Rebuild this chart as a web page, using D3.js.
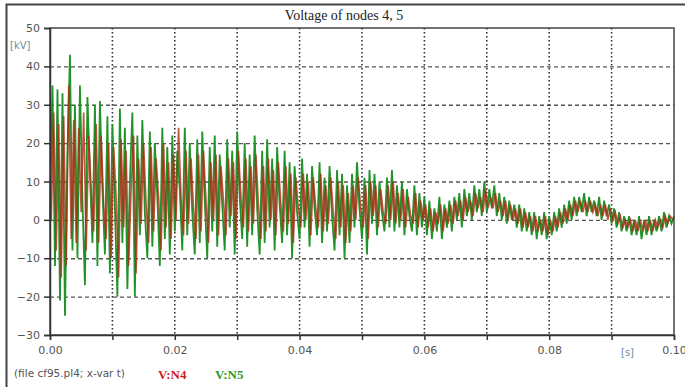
<!DOCTYPE html>
<html>
<head>
<meta charset="utf-8">
<script src="https://cdn.jsdelivr.net/npm/d3@7"></script>
<style>
  body { margin: 0; background: #fff; }
  svg { display: block; }
</style>
</head>
<body>
<svg id="chart" width="685" height="387"></svg>
<script>
// sample step of both traces [s]; the N4 trace is read half a step later
const tStep = 0.0004;
const n4Shift = 0.0002;

// V:N5 (green), kV, one row = 0.004 s
const n5 = [
  0, 35, -12, 34, -21, 33, -25, 18, 43, -8,
  30, -10, 35, 5, -17, 32, 12, -6, 30, -12,
  31, 8, -9, 27, -14, 25, 3, -20, 29, -6,
  24, -18, 10, 28, -20, 22, -4, 26, 2, -10,
  23, -7, 20, 6, -12, 24, -5, 19, -9, 22,
  -3, 18, 8, -8, 24, -4, 20, 2, -9, 21,
  -6, 23, 5, -10, 19, -3, 22, -7, 17, 4,
  -8, 21, -2, 18, -9, 23, 6, -5, 20, -7,
  17, -4, 22, 3, -9, 18, -6, 21, -2, 16,
  -8, 19, 4, -6, 18, -4, 15, -10, 14, 2,
  -5, 16, -2, 12, -7, 14, 3, -4, 15, -6,
  11, -3, 14, 1, -8, 13, -4, 12, -10, 9,
  -6, 12, -2, 15, 3, -5, 11, -9, 13, -1,
  12, -4, 10, 2, -3, 11, -2, 13, -3, 9,
  -2, 10, -4, 8, 1, -3, 9, -4, 7, -2,
  6, -4, 5, -5, 3, -3, 6, -5, 4, -2,
  5, -3, 6, 0, 7, -2, 8, 1, 7, 0,
  9, 2, 8, 1, 10, 2, 8, 3, 9, 1,
  7, 0, 6, -1, 5, 0, 4, -2, 4, -3,
  3, -3, 2, -4, 2, -5, 1, -4, 2, -5,
  1, -4, 2, -3, 3, -2, 4, -1, 5, 0,
  6, 1, 6, 2, 7, 1, 6, 2, 5, 1,
  6, 0, 5, 1, 4, -1, 3, -2, 2, -3,
  1, -3, 1, -4, 0, -4, 1, -5, 0, -4,
  1, -4, 0, -3, 1, -3, 2, -2, 1, -1,
  1
];

// V:N4 (red), kV
const n4 = [
  0, 28, -8, 25, -15, 27, -12, 35, -5, 26,
  -6, 24, 2, 28, -8, 22, 8, -3, 25, -6,
  22, 4, -5, 20, -10, 19, 6, -15, 21, -2,
  18, -12, 8, 22, -14, 16, -1, 20, 4, -6,
  19, -3, 16, 6, -8, 20, -2, 15, -5, 17,
  0, 24, 6, -4, 18, -1, 16, 3, -5, 17,
  -3, 18, 5, -6, 15, 0, 17, -4, 14, 5,
  -4, 16, 1, 15, -5, 18, 6, -2, 16, -3,
  14, -1, 17, 4, -5, 14, -3, 16, 0, 13,
  -4, 15, 4, -3, 14, -1, 12, -6, 11, 3,
  -2, 12, 0, 10, -4, 11, 3, -2, 12, -3,
  9, -1, 11, 2, -5, 10, -2, 9, -6, 7,
  -3, 9, 0, 11, 3, -2, 9, -5, 10, 1,
  9, -2, 8, 2, -1, 9, 0, 10, -1, 7,
  0, 8, -2, 6, 1, -1, 7, -2, 5, 0,
  4, -2, 3, -3, 2, -1, 4, -3, 3, -1,
  4, -1, 5, 1, 5, 0, 6, 2, 5, 1,
  7, 3, 6, 2, 8, 3, 6, 3, 7, 2,
  5, 1, 5, 0, 4, 0, 3, -1, 3, -2,
  2, -2, 1, -3, 1, -3, 0, -3, 1, -4,
  0, -3, 1, -2, 2, -1, 3, 0, 4, 1,
  5, 2, 5, 2, 5, 2, 5, 2, 4, 1,
  4, 1, 4, 0, 3, 0, 2, -1, 1, -2,
  0, -2, 0, -3, 0, -3, 0, -3, 0, -3,
  0, -3, 0, -2, 0, -2, 1, -1, 1, 0
];

const yTicks = [-30, -20, -10, 0, 10, 20, 30, 40, 50];
const xTicks = [0, 0.01, 0.02, 0.03, 0.04, 0.05, 0.06, 0.07, 0.08, 0.09, 0.1];
const xLabels = [0, 0.02, 0.04, 0.06, 0.08, 0.1];

const margin = { left: 50, right: 11, top: 28, bottom: 52 };
const width = 685, height = 387;

const svg = d3.select("#chart");

const x = d3.scaleLinear().domain([0, 0.1]).range([margin.left, width - margin.right]);
const y = d3.scaleLinear().domain([-30, 50]).range([height - margin.bottom, margin.top]);

// outer frame (left + top)
svg.append("path")
  .attr("d", "M6.5,390V4.5H690")
  .attr("fill", "none")
  .attr("stroke", "#444")
  .attr("stroke-width", 2);

// title
svg.append("text")
  .attr("x", 344).attr("y", 20)
  .attr("text-anchor", "middle")
  .style("font-family", "Liberation Serif, serif")
  .style("font-size", "14px")
  .attr("fill", "#222")
  .text("Voltage of nodes 4, 5");

/* ========== GRID ========== */
svg.append("g")
  .selectAll("line")
  .data(yTicks.filter(d => d > -30 && d < 50))
  .join("line")
  .attr("x1", margin.left).attr("x2", width - margin.right)
  .attr("y1", d => y(d) + 0.5).attr("y2", d => y(d) + 0.5)
  .attr("stroke", "#555")
  .attr("stroke-width", 1.3)
  .attr("stroke-dasharray", "4,3");

svg.append("g")
  .selectAll("line")
  .data(xTicks.filter(d => d > 0 && d < 0.1))
  .join("line")
  .attr("x1", d => x(d)).attr("x2", d => x(d))
  .attr("y1", margin.top).attr("y2", height - margin.bottom)
  .attr("stroke", "#333")
  .attr("stroke-width", 1.6)
  .attr("stroke-dasharray", "1.5,2.5");

/* ========== TRACES ========== */
svg.append("path")
  .datum(n5)
  .attr("fill", "none")
  .attr("stroke", "#22922a")
  .attr("stroke-width", 1.8)
  .attr("d", d3.line().x((d, i) => x(i * tStep)).y(d => y(d)));

svg.append("path")
  .datum(n4)
  .attr("fill", "none")
  .attr("stroke", "#b02a14")
  .attr("stroke-width", 1.6)
  .attr("stroke-opacity", 0.8)
  .attr("d", d3.line().x((d, i) => x(i * tStep + n4Shift)).y(d => y(d)));

/* ========== AXES ========== */
svg.append("rect")
  .attr("x", margin.left).attr("y", margin.top)
  .attr("width", width - margin.left - margin.right)
  .attr("height", height - margin.top - margin.bottom)
  .attr("fill", "none")
  .attr("stroke", "#444")
  .attr("stroke-width", 1.5);

const yAxis = d3.axisLeft(y).tickValues(yTicks).tickSize(6).tickPadding(4);
const yAxisSel = svg.append("g")
  .attr("transform", "translate(" + margin.left + ",0)")
  .call(yAxis);

const xAxis = d3.axisBottom(x).tickValues(xTicks).tickSize(5).tickPadding(6)
  .tickFormat(d => xLabels.some(v => Math.abs(v - d) < 1e-9) ? d3.format(".2f")(d) : "");
const xAxisSel = svg.append("g")
  .attr("transform", "translate(0," + (height - margin.bottom) + ")")
  .call(xAxis);

[yAxisSel, xAxisSel].forEach(g => {
  g.select(".domain").attr("stroke", "#333").attr("stroke-width", 1.5);
  g.selectAll(".tick line").attr("stroke", "#333").attr("stroke-width", 1.5);
  g.selectAll(".tick text")
    .attr("fill", "#555")
    .style("font-family", "DejaVu Sans, sans-serif")
    .style("font-size", "11px");
});

// units
svg.append("text")
  .attr("x", 10).attr("y", 49)
  .style("font-family", "DejaVu Sans, sans-serif")
  .style("font-size", "10px")
  .attr("fill", "#6b8ea0")
  .text("[kV]");

svg.append("text")
  .attr("x", 621).attr("y", 356)
  .style("font-family", "DejaVu Sans, sans-serif")
  .style("font-size", "10px")
  .attr("fill", "#6b8ea0")
  .text("[s]");

/* ========== LEGEND ========== */
svg.append("text")
  .attr("x", 14).attr("y", 377)
  .style("font-family", "DejaVu Sans, sans-serif")
  .style("font-size", "10.5px")
  .attr("fill", "#555")
  .text("(file cf95.pl4; x-var t)");

const legend = [
  { name: "V:N4", color: "#d01c1c", x: 158 },
  { name: "V:N5", color: "#2a9a2a", x: 215 }
];
svg.append("g")
  .selectAll("text")
  .data(legend)
  .join("text")
  .attr("x", d => d.x).attr("y", 379)
  .style("font-family", "Liberation Serif, serif")
  .style("font-size", "13px")
  .style("font-weight", "bold")
  .attr("fill", d => d.color)
  .text(d => d.name);
</script>
</body>
</html>
